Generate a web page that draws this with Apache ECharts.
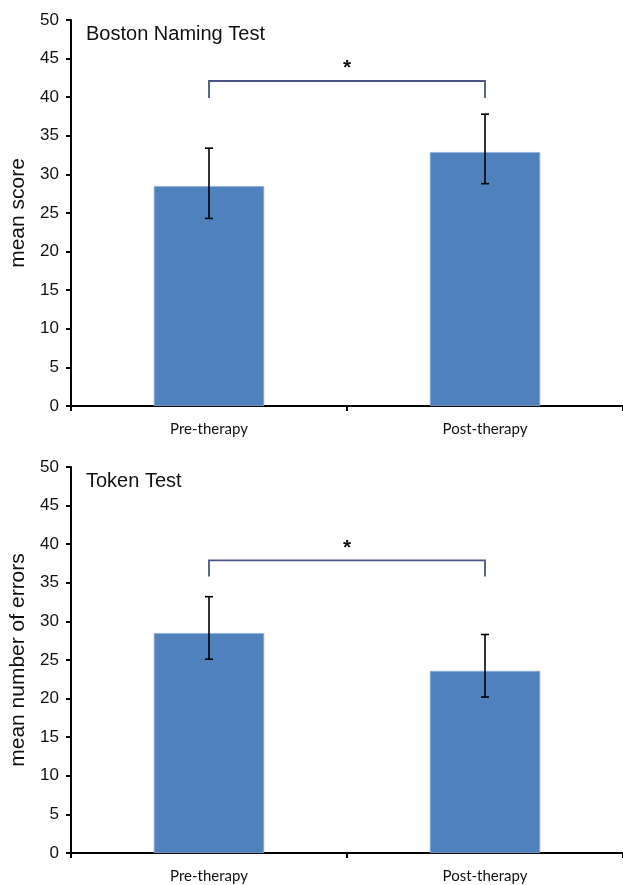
<!DOCTYPE html>
<html><head><meta charset="utf-8">
<script src="https://cdn.jsdelivr.net/npm/echarts@6/dist/echarts.min.js"></script>
<style>html,body{margin:0;padding:0;background:#fff}#c{width:623px;height:885px}</style>
</head><body><div id="c"></div>
<script>
const categories = ['Pre-therapy', 'Post-therapy'];
const yTicks = [0, 5, 10, 15, 20, 25, 30, 35, 40, 45, 50];

const bntTitle = 'Boston Naming Test';
const bntYName = 'mean score';
const bntMeans = [28.5, 32.9];
const bntErrLow = [24.3, 28.8];
const bntErrHigh = [33.4, 37.8];
const bntBracket = [42.1, 39.9];

const ttTitle = 'Token Test';
const ttYName = 'mean number of errors';
const ttMeans = [28.5, 23.6];
const ttErrLow = [25.1, 20.2];
const ttErrHigh = [33.2, 28.3];
const ttBracket = [37.9, 35.8];

const sigLabel = '*';

const chart = echarts.init(document.getElementById('c'), null, {renderer: 'canvas'});

function xAxis(gi) {
  return {
    type: 'category', gridIndex: gi, data: categories,
    axisLine: {lineStyle: {color: '#000', width: 2}},
    axisTick: {show: true, inside: false, length: 5, lineStyle: {color: '#000', width: 2}},
    axisLabel: {color: '#111', fontFamily: 'Lato', fontSize: 15, margin: 16}
  };
}
function yAxis(gi, name) {
  return {
    type: 'value', gridIndex: gi, min: 0, max: 50, interval: 5,
    name: name, nameLocation: 'middle', nameGap: 42,
    nameTextStyle: {color: '#111', fontFamily: 'Liberation Sans', fontSize: 21},
    axisLine: {show: true, lineStyle: {color: '#000', width: 2}},
    axisTick: {show: true, length: 5, lineStyle: {color: '#000', width: 2}},
    axisLabel: {color: '#111', fontFamily: 'Liberation Sans', fontSize: 17, margin: 12},
    splitLine: {show: false}
  };
}
function errSeries(gi, lo, hi) {
  return {
    type: 'custom', xAxisIndex: gi, yAxisIndex: gi, z: 5,
    data: categories.map((c, i) => [i, lo[i], hi[i]]),
    renderItem: function (params, api) {
      const p1 = api.coord([api.value(0), api.value(1)]);
      const p2 = api.coord([api.value(0), api.value(2)]);
      const w = 4;
      const st = {stroke: '#000', lineWidth: 1.6};
      return {type: 'group', children: [
        {type: 'line', shape: {x1: p1[0], y1: p1[1], x2: p2[0], y2: p2[1]}, style: st},
        {type: 'line', shape: {x1: p1[0] - w, y1: p1[1], x2: p1[0] + w, y2: p1[1]}, style: st},
        {type: 'line', shape: {x1: p2[0] - w, y1: p2[1], x2: p2[0] + w, y2: p2[1]}, style: st}
      ]};
    }
  };
}
function bracketSeries(gi, br) {
  return {
    type: 'custom', xAxisIndex: gi, yAxisIndex: gi, z: 5,
    data: [[0, 1, br[0], br[1]]],
    renderItem: function (params, api) {
      const a = api.coord([api.value(0), api.value(2)]);
      const b = api.coord([api.value(1), api.value(2)]);
      const a2 = api.coord([api.value(0), api.value(3)]);
      const b2 = api.coord([api.value(1), api.value(3)]);
      return {type: 'group', children: [
        {type: 'polyline', shape: {points: [[a2[0], a2[1]], [a[0], a[1]], [b[0], b[1]], [b2[0], b2[1]]]},
          style: {stroke: '#4a5585', lineWidth: 1.8, fill: null}},
        {type: 'text', x: (a[0] + b[0]) / 2, y: a[1] - 2,
          style: {text: sigLabel, fill: '#111', font: 'bold 21px Liberation Sans', align: 'center', verticalAlign: 'bottom'}}
      ]};
    }
  };
}
function barSeries(gi, vals) {
  return {
    type: 'bar', xAxisIndex: gi, yAxisIndex: gi, data: vals, barWidth: '40%',
    itemStyle: {color: '#4f81bd', borderColor: '#8fb0dc', borderWidth: 0.8}
  };
}

chart.setOption({
  animation: false,
  backgroundColor: '#fff',
  title: [
    {text: bntTitle, left: 81, top: 19, textStyle: {fontFamily: 'Liberation Sans', fontSize: 20, fontWeight: 'normal', color: '#111'}},
    {text: ttTitle, left: 81, top: 466, textStyle: {fontFamily: 'Liberation Sans', fontSize: 20, fontWeight: 'normal', color: '#111'}}
  ],
  grid: [
    {left: 71, top: 20, width: 556, height: 386},
    {left: 71, top: 467, width: 556, height: 386}
  ],
  xAxis: [xAxis(0), xAxis(1)],
  yAxis: [yAxis(0, bntYName), yAxis(1, ttYName)],
  series: [
    barSeries(0, bntMeans), errSeries(0, bntErrLow, bntErrHigh), bracketSeries(0, bntBracket),
    barSeries(1, ttMeans), errSeries(1, ttErrLow, ttErrHigh), bracketSeries(1, ttBracket)
  ]
});
</script></body></html>
